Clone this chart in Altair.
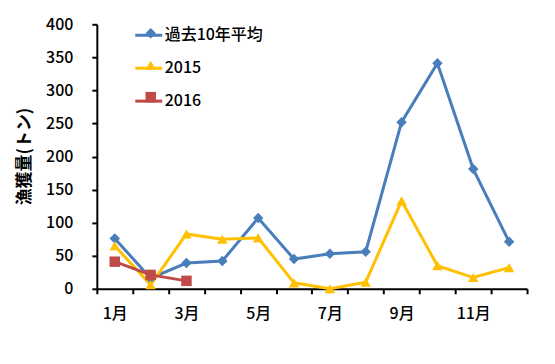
import altair as alt
import pandas as pd

months = list(range(1, 13))
avg10 = [76, 16, 39, 42, 107, 45, 53, 56, 252, 341, 181, 71]
y2015 = [65, 6, 83, 75, 77, 9, 0, 10, 133, 35, 17, 32]
y2016 = [41, 21, 12]
series_names = ["過去10年平均", "2015", "2016"]
colors = ["#4A7EBB", "#FFC000", "#BE4B48"]
shapes = ["diamond", "triangle-up", "square"]
y_ticks = list(range(0, 401, 50))

rows = []
for vals, name in zip([avg10, y2015, y2016], series_names):
    for m, v in zip(months, vals):
        rows.append({"month": m, "value": v, "series": name})
df = pd.DataFrame(rows)

FONT = "Noto Sans CJK JP"

x_enc = alt.X(
    "month:O",
    scale=alt.Scale(type="band", paddingInner=0, paddingOuter=0),
    axis=alt.Axis(
        title=None, labelAngle=0, tickBand="extent",
        labelExpr="datum.value % 2 == 1 ? datum.value + '月' : ''",
        domainColor="black", domainWidth=2, tickColor="black", tickWidth=2,
        tickSize=5, labelPadding=12, labelFontSize=16, labelFont=FONT,
        labelFontWeight=500, labelColor="black", grid=False,
    ),
)
y_enc = alt.Y(
    "value:Q",
    scale=alt.Scale(domain=[0, 400], nice=False),
    axis=alt.Axis(
        values=y_ticks, title="漁獲量(トン)", titleFont=FONT, titleFontSize=17,
        titleFontWeight="bold", titleColor="black", titleAngle=-90,
        titleX=-72, titleY=132, titleAlign="center", titleBaseline="middle",
        domainColor="black", domainWidth=2, tickColor="black", tickWidth=2,
        tickSize=5, labelPadding=19, labelFontSize=16, labelFont=FONT,
        labelFontWeight=500, labelColor="black", grid=False,
    ),
)

color_scale = alt.Scale(domain=series_names, range=colors)

line_legend = alt.Legend(
    title=None, orient="none", legendX=37, legendY=-4, symbolType="stroke",
    symbolSize=729, symbolStrokeWidth=3, labelFontSize=16, labelFont=FONT,
    labelFontWeight=500, labelColor="black", rowPadding=10, padding=0,
    labelOffset=1,
)
point_legend = alt.Legend(
    title=None, orient="none", legendX=46, legendY=1,
    symbolSize=110, labelFontSize=16, labelFont=FONT, labelExpr="''",
    rowPadding=16, padding=0, symbolStrokeWidth=0,
)

lines = alt.Chart(df).mark_line(strokeWidth=3).encode(
    x=x_enc, y=y_enc,
    color=alt.Color("series:N", scale=color_scale, legend=line_legend, sort=series_names),
)
points = alt.Chart(df).mark_point(filled=True, size=110, opacity=1).encode(
    x=x_enc, y=y_enc,
    color=alt.Color("series:N", scale=color_scale, legend=point_legend, sort=series_names),
    shape=alt.Shape("series:N", scale=alt.Scale(domain=series_names, range=shapes),
                    legend=point_legend, sort=series_names),
)

chart = alt.layer(lines, points).resolve_legend(
    color="independent", shape="independent"
).properties(
    width=431, height=265,
    autosize=alt.AutoSizeParams(type="none"),
    padding={"left": 89, "top": 16, "right": 20, "bottom": 60},
    background="white",
).configure_view(stroke=None)

chart.save("out.html", embed_options={"renderer": "svg", "actions": False})
